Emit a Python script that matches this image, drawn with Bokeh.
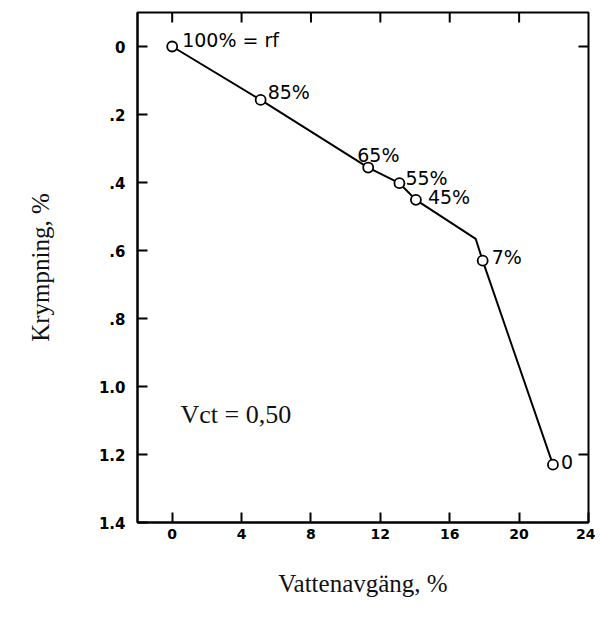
from bokeh.plotting import figure
from bokeh.models import Range1d, FixedTicker, ColumnDataSource, LabelSet, Label
from bokeh.core.properties import value
from bokeh.embed import file_html
from bokeh.resources import INLINE

# data
vattenavgang = [0.0, 5.1, 11.3, 13.1, 14.05, 17.9, 21.95]
krympning = [0.0, 0.157, 0.356, 0.402, 0.451, 0.630, 1.230]
rf_labels = ["100% = rf", "85%", "65%", "55%", "45%", "7%", "0"]
knee_x = 17.5
knee_y = 0.566
x_ticks = [0, 4, 8, 12, 16, 20, 24]
y_ticks = [0, 0.2, 0.4, 0.6, 0.8, 1.0, 1.2, 1.4]
y_tick_labels = ["0", ".2", ".4", ".6", ".8", "1.0", "1.2", "1.4"]
right_ticks = [0, 1.2]

# label offsets (screen px)
lab_dx = [10, 7, -11, 6, 12, 9, 8]
lab_dy = [7, 8, 13, 5, 3, 4, 3]

line_x = vattenavgang[:5] + [knee_x] + vattenavgang[5:]
line_y = krympning[:5] + [knee_y] + krympning[5:]

FW, FH, TICK = 451, 510, 10
TC = "black"
xr = Range1d(-2, 24)
yr = Range1d(1.4, -0.1)
p = figure(width=595, height=607, output_backend="svg", toolbar_location=None,
           x_range=xr, y_range=yr,
           frame_width=FW, frame_height=FH,
           min_border_left=137, min_border_top=12, min_border_right=7, min_border_bottom=85)
p.grid.visible = False
p.background_fill_color = "white"
p.border_fill_color = "white"
p.outline_line_color = "black"
p.outline_line_width = 2

xa = p.xaxis[0]
ya = p.yaxis[0]
xa.ticker = FixedTicker(ticks=x_ticks)
ya.ticker = FixedTicker(ticks=y_ticks)
ya.major_label_overrides = {t: l for t, l in zip(y_ticks, y_tick_labels)}
for ax in (xa, ya):
    ax.axis_line_color = "black"
    ax.axis_line_width = 2
    ax.major_tick_in = TICK
    ax.major_tick_out = 0
    ax.major_tick_line_width = 2
    ax.major_tick_line_color = TC
    ax.minor_tick_line_color = None
    ax.major_label_text_font = "DejaVu Sans"
    ax.major_label_text_font_style = "bold"
    ax.major_label_text_color = "black"
    ax.axis_label_text_font = "Liberation Serif"
    ax.axis_label_text_font_style = "normal"
    ax.axis_label_text_font_size = "25px"
    ax.axis_label_text_color = "#111111"
xa.major_label_text_font_size = "14px"
ya.major_label_text_font_size = "15px"
xa.major_label_standoff = 6
ya.major_label_standoff = 12
xa.axis_label = "Vattenavgäng, %"
ya.axis_label = "Krympning, %"
xa.axis_label_standoff = 28
ya.axis_label_standoff = 42

# inward ticks on the top and right edges of the frame
dy_tick = (yr.start - yr.end) * TICK / FH
dx_tick = (xr.end - xr.start) * TICK / FW
top_x = x_ticks[:-1]
p.segment(x0=top_x, y0=[yr.end] * len(top_x), x1=top_x, y1=[yr.end + dy_tick] * len(top_x),
          line_color=TC, line_width=2)
p.segment(x0=[xr.end] * len(right_ticks), y0=right_ticks,
          x1=[xr.end - dx_tick] * len(right_ticks), y1=right_ticks,
          line_color=TC, line_width=2)

p.line(line_x, line_y, line_color="black", line_width=2)
src = ColumnDataSource(dict(x=vattenavgang, y=krympning, t=rf_labels, dx=lab_dx, dy=lab_dy))
p.scatter("x", "y", source=src, marker="circle", size=10, fill_color="white",
          line_color="black", line_width=1.8)
p.add_layout(LabelSet(x="x", y="y", text="t", source=src, x_offset="dx", y_offset="dy",
                      text_font=value("DejaVu Sans"), text_font_size=value("19px"),
                      text_color="black", text_baseline="middle", text_align="left"))
p.add_layout(Label(x=0.48, y=1.083, text="Vct = 0,50", text_font="Liberation Serif",
                   text_font_size="26px", text_color="#111111", text_baseline="middle"))

open("out.html", "w").write(file_html(p, INLINE))
